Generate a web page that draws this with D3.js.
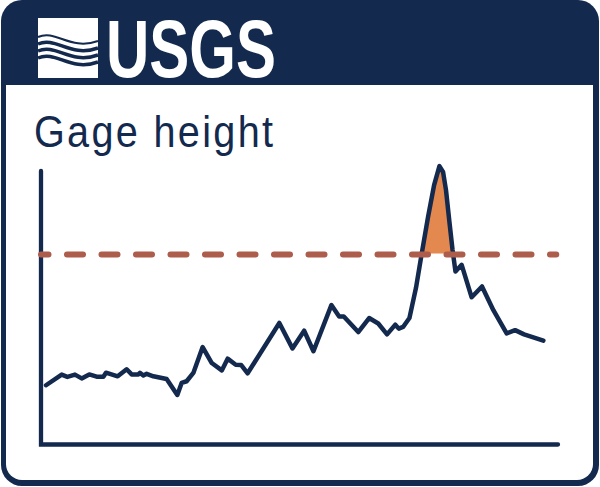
<!DOCTYPE html>
<html>
<head>
<meta charset="utf-8">
<script src="https://cdn.jsdelivr.net/npm/d3@7"></script>
<style>
  body { margin: 0; background: #fff; }
  svg { display: block; }
</style>
</head>
<body>
<div id="chart"></div>
<script>
// gage height record (days since start, feet)
const days = [0.29, 1.20, 1.53, 1.97, 2.36, 2.80, 3.23, 3.62, 3.77, 4.45, 4.97, 5.26, 5.65, 5.74, 5.94, 6.13,
  6.52, 7.29, 7.91, 8.16, 8.45, 8.84, 9.38, 9.91, 10.49, 10.83, 11.30, 11.61, 11.99, 13.83, 14.59, 15.27,
  15.81, 16.85, 17.30, 17.57, 18.41, 19.04, 19.57, 20.08, 20.56, 20.76, 21.01, 21.38, 21.76, 22.05, 22.46,
  22.81, 23.12, 23.33, 23.50, 23.70, 23.88, 24.05, 24.41, 24.99, 25.59, 26.25, 27.02, 27.51, 28.03, 29.15];
const gageHeight = [3.12, 3.68, 3.56, 3.68, 3.48, 3.69, 3.57, 3.57, 3.78, 3.59, 3.96, 3.69, 3.69, 3.77, 3.63, 3.72,
  3.59, 3.45, 2.61, 3.24, 3.33, 3.77, 5.13, 4.29, 3.90, 4.52, 4.20, 4.19, 3.75, 6.40, 5.06, 5.99,
  4.91, 7.34, 6.74, 6.74, 5.92, 6.66, 6.37, 5.80, 6.31, 6.10, 6.19, 6.66, 8.25, 9.83, 11.98,
  13.66, 14.66, 14.35, 13.40, 11.72, 10.25, 9.11, 9.46, 7.75, 8.32, 7.07, 5.85, 6.02, 5.80, 5.47];
const floodStage = 10;
const floodSpan = [0, 29.9];
const xDomain = [0, 30];
const yDomain = [0, 14.4];
const title = "Gage height";
const brand = "USGS";

const width = 600, height = 487;
const navy = "#13294e";
const font = "'Liberation Sans', Arial, sans-serif";

const data = days.map((d, i) => ({ day: d, value: gageHeight[i] }));

const svg = d3.select("#chart").append("svg")
  .attr("width", width)
  .attr("height", height);

// card frame
svg.append("rect")
  .attr("x", 1).attr("y", 0)
  .attr("width", 598).attr("height", 486)
  .attr("rx", 21)
  .attr("fill", navy);

svg.append("path")
  .attr("d", "M6,85H593V464A16,16 0 0 1 577,480H22A16,16 0 0 1 6,464Z")
  .attr("fill", "#fff");

// logo mark
const logo = svg.append("g");
logo.append("rect")
  .attr("x", 38).attr("y", 18)
  .attr("width", 60).attr("height", 60)
  .attr("fill", "#fff");
[[33, 2], [40, 3.5], [47, 3.5], [54, 3.5]].forEach(([y0, w]) => {
  logo.append("path")
    .attr("d", `M38,${y0 + 4} C56,${y0 - 4} 70,${y0 + 18} 98,${y0 + 8}`)
    .attr("fill", "none")
    .attr("stroke", navy)
    .attr("stroke-width", w);
});

svg.append("text")
  .attr("transform", "translate(106,77) scale(0.82,1)")
  .attr("font-family", font)
  .attr("font-weight", "bold")
  .attr("font-size", 82)
  .attr("textLength", 170 / 0.82)
  .attr("lengthAdjust", "spacingAndGlyphs")
  .attr("fill", "#fff")
  .text(brand);

svg.append("text")
  .attr("transform", "translate(34,147) scale(0.9,1)")
  .attr("font-family", font)
  .attr("font-size", 44)
  .attr("textLength", 239 / 0.9)
  .attr("lengthAdjust", "spacing")
  .attr("fill", navy)
  .text(title);

// scales
const x = d3.scaleLinear().domain(xDomain).range([41, 558]);
const y = d3.scaleLinear().domain(yDomain).range([444.5, 171]);

// fill above flood stage
svg.append("clipPath").attr("id", "above")
  .append("rect")
  .attr("x", x.range()[0]).attr("y", 0)
  .attr("width", x.range()[1] - x.range()[0])
  .attr("height", y(floodStage) - 1);

svg.append("path")
  .datum(data)
  .attr("clip-path", "url(#above)")
  .attr("fill", "#e3884f")
  .attr("d", d3.area()
    .x(d => x(d.day))
    .y0(y(floodStage))
    .y1(d => y(d.value)));

// axes
svg.append("path")
  .attr("d", d3.line()([[x.range()[0], y.range()[1]], [x.range()[0], y.range()[0]], [x.range()[1], y.range()[0]]]))
  .attr("fill", "none")
  .attr("stroke", navy)
  .attr("stroke-width", 4.3)
  .attr("stroke-linecap", "round")
  .attr("stroke-linejoin", "miter");

// gage line
svg.append("path")
  .datum(data)
  .attr("fill", "none")
  .attr("stroke", navy)
  .attr("stroke-width", 4.5)
  .attr("stroke-linejoin", "round")
  .attr("stroke-linecap", "round")
  .attr("d", d3.line().x(d => x(d.day)).y(d => y(d.value)));

// flood stage line
svg.append("path")
  .datum(floodSpan)
  .attr("fill", "none")
  .attr("stroke", "#ad5d4b")
  .attr("stroke-width", 6)
  .attr("stroke-linecap", "round")
  .attr("stroke-dasharray", "16 18.5")
  .attr("stroke-dashoffset", 8.5)
  .attr("d", d3.line().x(d => x(d)).y(() => y(floodStage)));
</script>
</body>
</html>
